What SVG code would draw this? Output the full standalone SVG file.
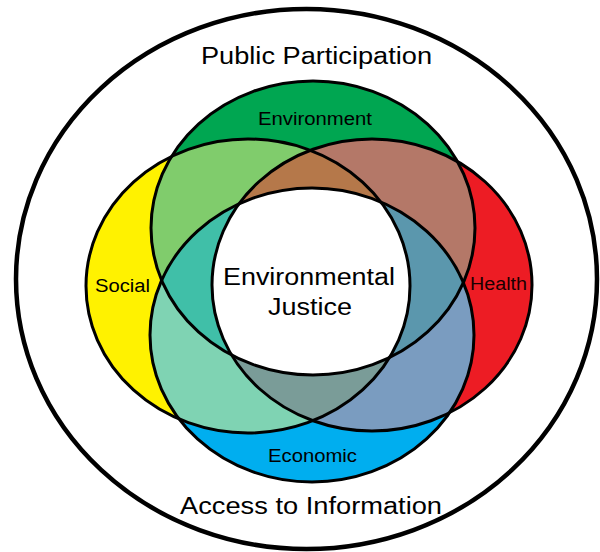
<svg xmlns="http://www.w3.org/2000/svg" xmlns:xlink="http://www.w3.org/1999/xlink" width="600" height="552" viewBox="0 0 600 552">
<style>
  text { font-family: "Liberation Sans", Arial, sans-serif; fill: #000; text-anchor: middle; }
  .big { font-size: 23.5px; }
  .lbl { font-size: 18px; }
  .outline { fill: none; stroke: #000; stroke-width: 3; }
</style>
<defs>
  <ellipse id="eEnv" cx="313" cy="228" rx="162" ry="147"/>
  <ellipse id="eEco" cx="312" cy="335" rx="162" ry="147"/>
  <ellipse id="eSoc" cx="248" cy="286" rx="162" ry="147"/>
  <ellipse id="eHea" cx="372" cy="285" rx="160" ry="146"/>
  <clipPath id="cEnv"><use xlink:href="#eEnv"/></clipPath>
  <clipPath id="cEco"><use xlink:href="#eEco"/></clipPath>
  <clipPath id="cSoc"><use xlink:href="#eSoc"/></clipPath>
  <clipPath id="cHea"><use xlink:href="#eHea"/></clipPath>
</defs>
<rect width="600" height="552" fill="#fff"/>

<g id="outer">
  <ellipse cx="306.5" cy="279" rx="290.5" ry="270" fill="none" stroke="#000" stroke-width="4.5"/>
  <text class="big" x="316.5" y="63.5" textLength="231" lengthAdjust="spacingAndGlyphs">Public Participation</text>
  <text class="big" x="311" y="514" textLength="262" lengthAdjust="spacingAndGlyphs">Access to Information</text>
</g>

<g id="fills">
  <use xlink:href="#eEnv" fill="#00a651"/>
  <use xlink:href="#eEco" fill="#00aeef"/>
  <use xlink:href="#eSoc" fill="#fff200"/>
  <use xlink:href="#eHea" fill="#ed1c24"/>
</g>

<g id="overlaps">
  <g clip-path="url(#cEnv)"><use xlink:href="#eSoc" fill="#80cc6c"/></g>
  <g clip-path="url(#cEnv)"><use xlink:href="#eHea" fill="#b47868"/></g>
  <g clip-path="url(#cEco)"><use xlink:href="#eSoc" fill="#7fd3b3"/></g>
  <g clip-path="url(#cEco)"><use xlink:href="#eHea" fill="#7a9cc0"/></g>
  <g clip-path="url(#cEnv)"><g clip-path="url(#cSoc)"><use xlink:href="#eHea" fill="#b5784a"/></g></g>
  <g clip-path="url(#cEco)"><g clip-path="url(#cSoc)"><use xlink:href="#eHea" fill="#7a9c98"/></g></g>
  <g clip-path="url(#cEnv)"><g clip-path="url(#cEco)"><use xlink:href="#eSoc" fill="#40bfa8"/></g></g>
  <g clip-path="url(#cEnv)"><g clip-path="url(#cEco)"><use xlink:href="#eHea" fill="#5b97ad"/></g></g>
  <g clip-path="url(#cEnv)"><g clip-path="url(#cEco)"><g clip-path="url(#cSoc)"><use xlink:href="#eHea" fill="#ffffff"/></g></g></g>
</g>

<g id="environment">
  <use xlink:href="#eEnv" class="outline"/>
  <text class="lbl" x="315" y="125" font-size="18.5" textLength="114" lengthAdjust="spacingAndGlyphs">Environment</text>
</g>
<g id="social">
  <use xlink:href="#eSoc" class="outline"/>
  <text class="lbl" x="122.5" y="292" textLength="55" lengthAdjust="spacingAndGlyphs">Social</text>
</g>
<g id="health">
  <use xlink:href="#eHea" class="outline"/>
  <text class="lbl" x="498.5" y="290" textLength="57" lengthAdjust="spacingAndGlyphs" style="fill:#1a0000">Health</text>
</g>
<g id="economic">
  <use xlink:href="#eEco" class="outline"/>
  <text class="lbl" x="312.5" y="462" textLength="89" lengthAdjust="spacingAndGlyphs">Economic</text>
</g>
<g id="justice">
  <text class="big" x="309" y="285" textLength="172" lengthAdjust="spacingAndGlyphs">Environmental</text>
  <text class="big" x="310" y="315" textLength="84" lengthAdjust="spacingAndGlyphs">Justice</text>
</g>
</svg>
